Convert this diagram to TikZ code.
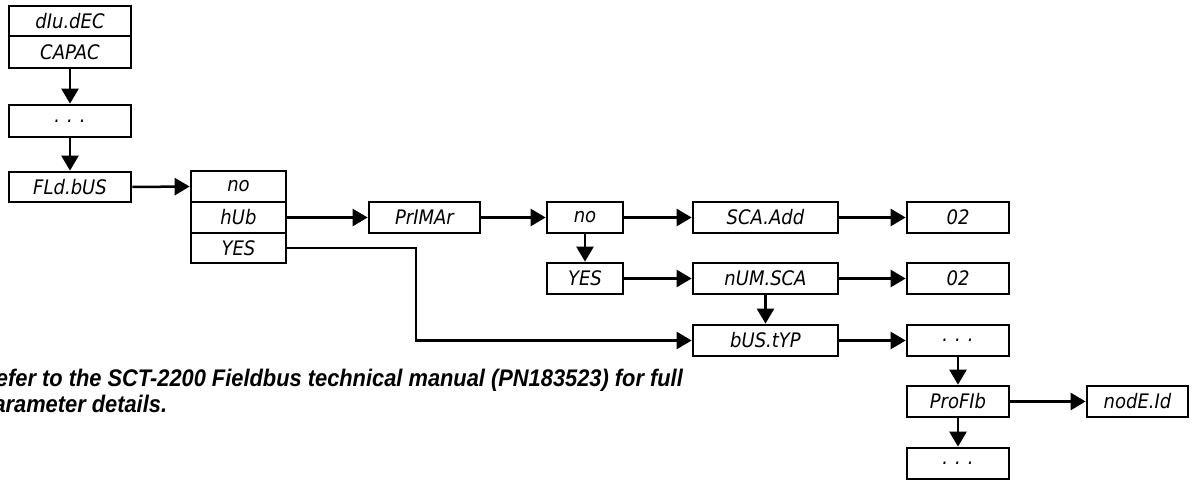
\documentclass[tikz,border=0pt]{standalone}
\usepackage{fontspec}
\usetikzlibrary{arrows.meta}
\newfontfamily\segfont{DejaVu Sans Condensed}
\newfontfamily\notefont[FakeStretch=0.91]{Liberation Sans}
\tikzset{
  box/.style={draw, line width=2.7bp, minimum height=30bp, inner sep=0pt,
    minimum width=#1, font=\segfont\itshape\fontsize{20bp}{21bp}\selectfont},
  conn/.style={line width=2.5bp, -{Triangle[length=15bp,width=17bp]}},
  note/.style={inner sep=0pt, font=\notefont\bfseries\itshape\fontsize{24bp}{26bp}\selectfont}
}
\newcommand{\segdots}{.\hspace{0.35em}.\hspace{0.35em}.}
\begin{document}
\begin{tikzpicture}[x=1bp,y=-1bp]
\useasboundingbox (0,0) rectangle (1193,480);
% left column
\node[box=122bp] (div) at (70,21) {dIu.dEC};
\node[box=122bp, minimum height=32bp] (capac) at (70,52) {CAPAC};
\node[box=122bp, minimum height=32bp] (dots1) at (70,121) {\segdots};
\node[box=122bp] (fld) at (70,187) {FLd.bUS};
% option stack
\node[box=95bp, minimum height=31bp] (no1) at (238.5,186.5) {no};
\node[box=95bp, minimum height=31bp] (hub) at (238.5,217.5) {hUb};
\node[box=95bp, minimum height=30bp] (yes1) at (238.5,248) {YES};
% hub branch
\node[box=111bp, minimum height=31bp] (prim) at (424.5,217.5) {PrIMAr};
\node[box=76bp, minimum height=31bp] (no2) at (585,217.5) {no};
\node[box=145bp, minimum height=31bp] (scaadd) at (765.5,217.5) {SCA.Add};
\node[box=102bp, minimum height=31bp] (v1) at (958,217.5) {02};
\node[box=76bp, minimum height=31bp] (yes2) at (585,278.5) {YES};
\node[box=145bp, minimum height=31bp] (numsca) at (765.5,278.5) {nUM.SCA};
\node[box=102bp, minimum height=31bp] (v2) at (958,278.5) {02};
\node[box=145bp, minimum height=31bp] (bus) at (765.5,340.5) {bUS.tYP};
\node[box=102bp, minimum height=31bp] (dots2) at (958,340.5) {\segdots};
\node[box=102bp, minimum height=31bp] (prof) at (958,401.5) {ProFIb};
\node[box=101bp, minimum height=31bp] (node) at (1137.5,401.5) {nodE.Id};
\node[box=102bp, minimum height=31bp] (dots3) at (958,463.5) {\segdots};
% connectors
\draw[conn] (capac.south) -- (dots1.north);
\draw[conn] (dots1.south) -- (fld.north);
\draw[conn] (fld.east) -- (no1.west);
\draw[conn] (hub.east) -- (prim.west);
\draw[conn] (prim.east) -- (no2.west);
\draw[conn] (no2.east) -- (scaadd.west);
\draw[conn] (scaadd.east) -- (v1.west);
\draw[conn] (no2.south) -- (yes2.north);
\draw[conn] (yes2.east) -- (numsca.west);
\draw[conn] (numsca.east) -- (v2.west);
\draw[conn] (numsca.south) -- (bus.north);
\draw[conn] (bus.east) -- (dots2.west);
\draw[conn] (dots2.south) -- (prof.north);
\draw[conn] (prof.east) -- (node.west);
\draw[conn] (prof.south) -- (dots3.north);
\coordinate (bend) at (416,248);
\draw[conn] (yes1.east) -- (bend) |- (bus.west);
% note
\node[note, anchor=base west] (n1) at (-20,387) {Refer to the SCT-2200 Fieldbus technical manual (PN183523) for full};
\node[note, anchor=base west] (n2) at ([yshift=-25bp]n1.base west) {parameter details.};
\end{tikzpicture}
\end{document}
